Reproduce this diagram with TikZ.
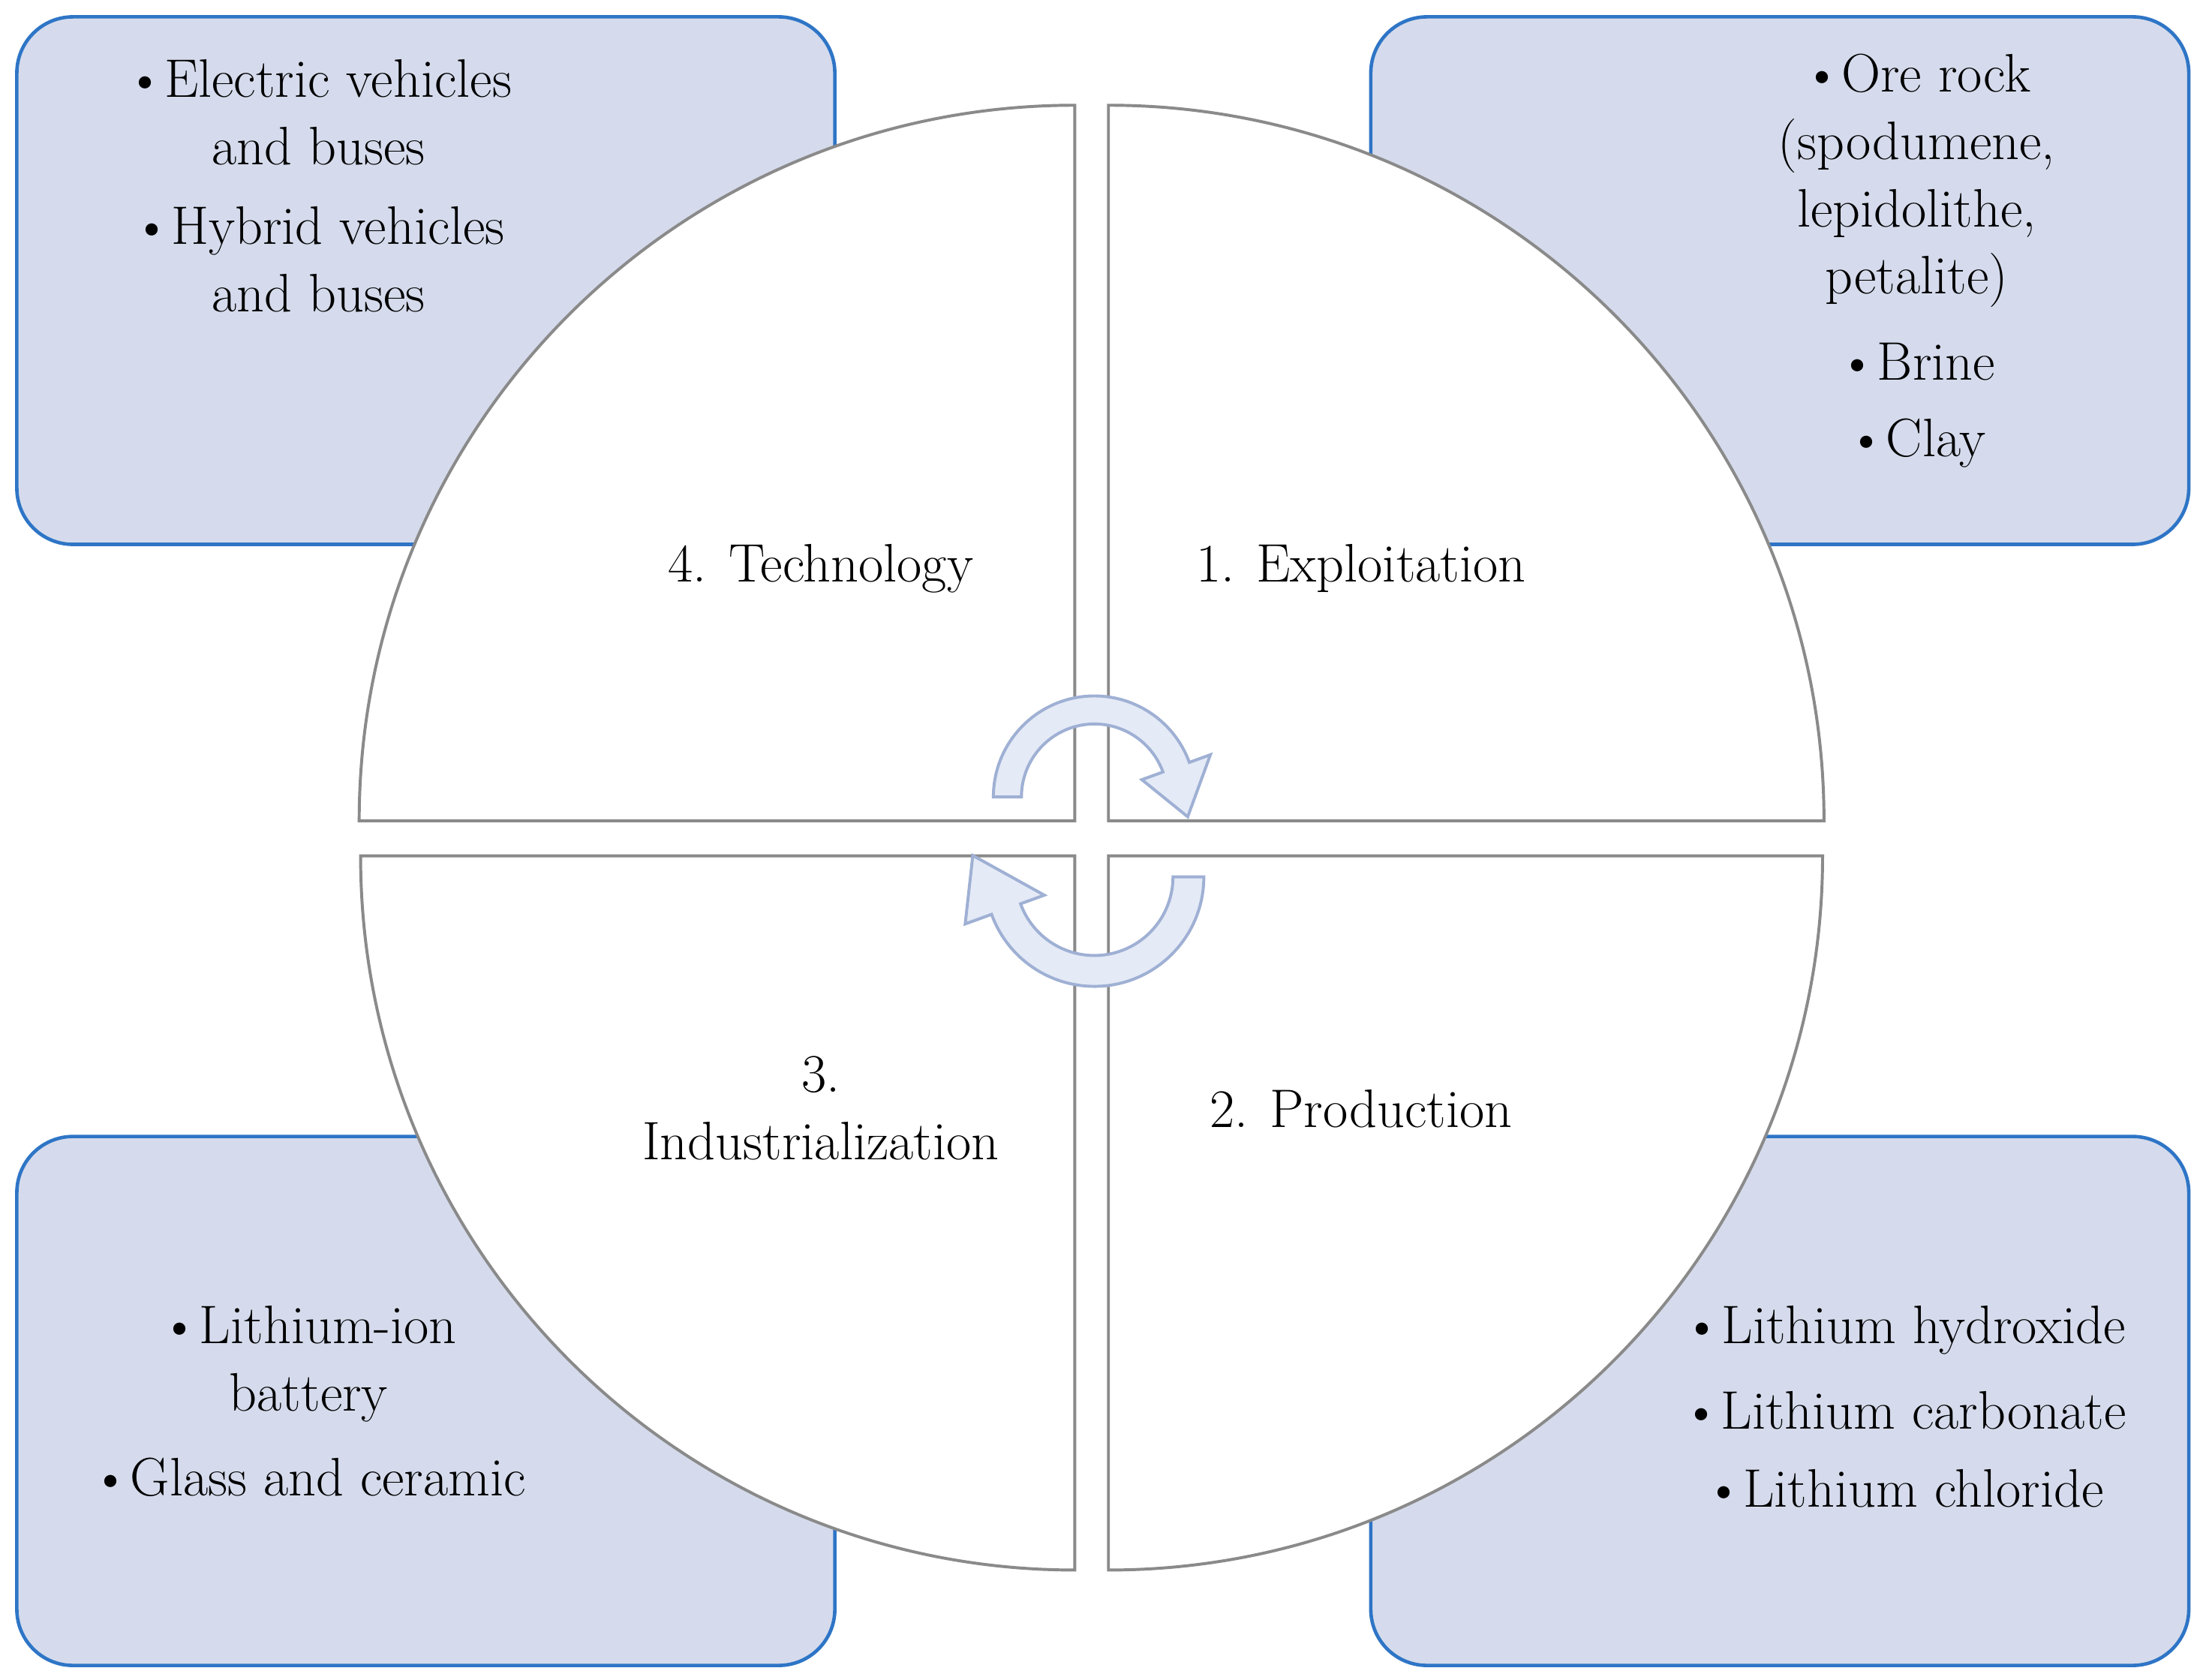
\documentclass[tikz,border=0pt]{standalone}
\usepackage{xcolor}
\definecolor{boxfill}{HTML}{D5DBEC}
\definecolor{boxline}{HTML}{2E75C6}
\definecolor{quadline}{HTML}{8A8A8A}
\definecolor{arrfill}{HTML}{E4EAF6}
\definecolor{arrline}{HTML}{9FB0D4}
\begin{document}
\begin{tikzpicture}[x=0.02cm,y=-0.02cm,
  infobox/.style={fill=boxfill,draw=boxline,line width=1.4pt,rounded corners=0.8cm},
  quad/.style={fill=white,draw=quadline,line width=1.2pt},
  cyc/.style={fill=arrfill,draw=arrline,line width=1.2pt},
  txt/.style={align=center,font=\fontsize{22}{27.3}\selectfont,inner sep=0pt}]
\useasboundingbox (0,0) rectangle (1568,1197);
\fill[white] (0,0) rectangle (1568,1197);
% info boxes
\draw[infobox] (12,12) rectangle (595,388);
\draw[infobox] (977,12) rectangle (1560,388);
\draw[infobox] (12,810) rectangle (595,1187);
\draw[infobox] (977,810) rectangle (1560,1187);
% quadrants
\draw[quad] (766,585) -- (256,585) arc[start angle=180,end angle=270,radius=510] -- cycle;
\draw[quad] (790,585) -- (790,75) arc[start angle=270,end angle=360,radius=510] -- cycle;
\draw[quad] (766,610) -- (766,1119) arc[start angle=90,end angle=180,radius=509] -- cycle;
\draw[quad] (790,610) -- (1299,610) arc[start angle=0,end angle=90,radius=509] -- cycle;
% cycle arrows
\coordinate (c1) at (780,568);
\draw[cyc] ([shift={(180:72)}]c1) arc[start angle=180,end angle=340,radius=72]
  -- ([shift={(340:88)}]c1) -- ([shift={(12:68)}]c1) -- ([shift={(340:36)}]c1)
  -- ([shift={(340:52)}]c1) arc[start angle=340,end angle=180,radius=52] -- cycle;
\coordinate (c2) at (780,625);
\draw[cyc] ([shift={(0:78)}]c2) arc[start angle=0,end angle=160,radius=78]
  -- ([shift={(160:98)}]c2) -- ([shift={(190:88)}]c2) -- ([shift={(160:38)}]c2)
  -- ([shift={(160:56)}]c2) arc[start angle=160,end angle=0,radius=56] -- cycle;
% quadrant labels
\node[txt] (q4) at (585,405) {4. Technology};
\node[txt] (q1) at (970,405) {1. Exploitation};
\node[txt] (q3) at (585,790) {3.\\Industrialization};
\node[txt] (q2) at (970,790) {2. Production};
% box texts
\node[txt] (tl1) at (227,80) {\textbullet Electric vehicles\\and buses};
\node[txt] (tl2) at (227,185) {\textbullet Hybrid vehicles\\and buses};
\node[txt] (tr1) at (1366,129) {\textbullet Ore rock\\(spodumene,\\lepidolithe,\\petalite)};
\node[txt] (tr2) at (1366,258) {\textbullet Brine};
\node[txt] (tr3) at (1366,316) {\textbullet Clay};
\node[txt] (bl1) at (220,972) {\textbullet Lithium-ion\\battery};
\node[txt] (bl2) at (220,1053) {\textbullet Glass and ceramic};
\node[txt] (br1) at (1357,948) {\textbullet Lithium hydroxide};
\node[txt] (br2) at (1357,1005) {\textbullet Lithium carbonate};
\node[txt] (br3) at (1357,1061) {\textbullet Lithium chloride};
\end{tikzpicture}
\end{document}
